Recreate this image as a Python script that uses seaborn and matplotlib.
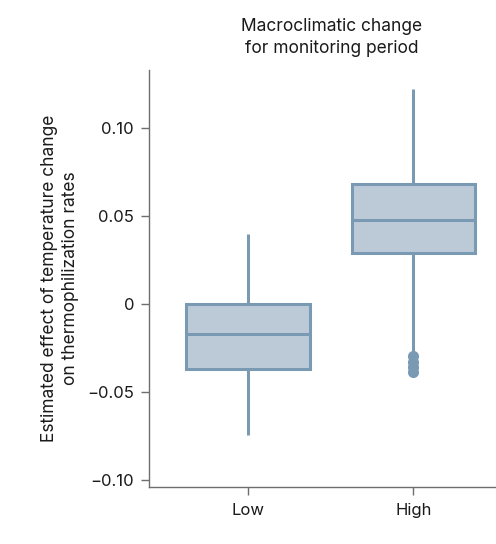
import matplotlib
matplotlib.use("Agg")
import matplotlib.pyplot as plt
import seaborn as sns
import pandas as pd

# values (quartiles / whiskers / outliers)
low_vals = [-0.0748, -0.0371, -0.0172, -0.0004, 0.0394]
high_vals = [-0.0390, -0.0360, -0.0330, -0.0298, -0.0273,
             0.0290, 0.0330, 0.0370, 0.0410, 0.0445,
             0.0476, 0.0520, 0.0570, 0.0620, 0.0650,
             0.0680, 0.0780, 0.0900, 0.1000, 0.1100, 0.1218]
categories = ["Low", "High"]
yticks = [-0.10, -0.05, 0, 0.05, 0.10]
ytick_labels = ["\u22120.10", "\u22120.05", "0", "0.05", "0.10"]

df = pd.DataFrame({
    "period": ["Low"] * len(low_vals) + ["High"] * len(high_vals),
    "effect": low_vals + high_vals,
})

sns.set_style("ticks")
plt.rcParams["font.family"] = ["Inter", "DejaVu Sans"]

fill = "#bccad8"
edge = "#7a9ab4"
axcol = "#6e6e6e"
txt = "#1a1a1a"

fig = plt.figure(figsize=(4.96, 5.44), dpi=100)
ax = fig.add_axes([149.3 / 496, 1 - 487.3 / 544, (496 - 149.3) / 496, (487.3 - 70) / 544])

sns.boxplot(data=df, x="period", y="effect", order=categories, width=0.75,
            color=fill, linecolor=edge, linewidth=2.2, whis=1.5, showcaps=False,
            flierprops=dict(marker="o", markersize=7, markerfacecolor=edge,
                            markeredgecolor=edge),
            ax=ax)
for p in ax.patches:
    p.set_facecolor(fill)

ax.set_xlim(-0.6, 1.5)
ax.set_ylim(-0.1043, 0.1328)
ax.set_yticks(yticks)
ax.set_yticklabels(ytick_labels)
ax.set_xlabel("")
ax.set_ylabel("Estimated effect of temperature change\non thermophilization rates",
              fontsize=12.5, color=txt, labelpad=6, linespacing=1.3)
ax.set_title("Macroclimatic change\nfor monitoring period", fontsize=12.5,
             color=txt, pad=12, x=0.525, linespacing=1.4)

for s in ["top", "right"]:
    ax.spines[s].set_visible(False)
for s in ["left", "bottom"]:
    ax.spines[s].set_color(axcol)
    ax.spines[s].set_linewidth(1.0)
ax.tick_params(axis="both", colors=axcol, length=6, width=1.0, labelsize=12,
               labelcolor=txt, pad=5)

fig.savefig("out.png", dpi=100)
